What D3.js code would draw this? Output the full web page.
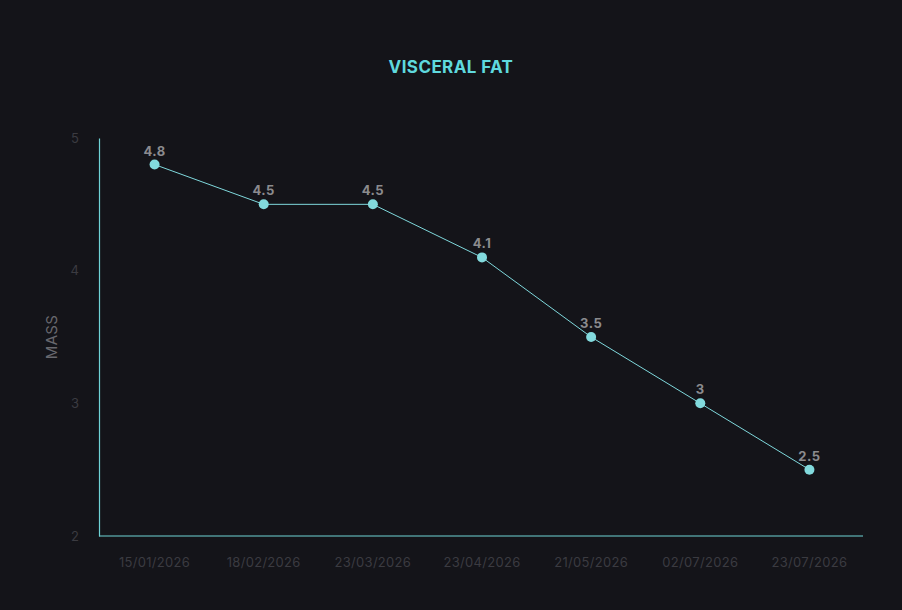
<!DOCTYPE html>
<html>
<head>
<meta charset="utf-8">
<script src="https://cdn.jsdelivr.net/npm/d3@7"></script>
<style>
  html, body { margin: 0; padding: 0; background: #141419; }
  svg { display: block; }
</style>
</head>
<body>
<div id="board"></div>
<script>
// chart data
var dates = ['15/01/2026','18/02/2026','23/03/2026','23/04/2026','21/05/2026','02/07/2026','23/07/2026'];
var values = [4.8, 4.5, 4.5, 4.1, 3.5, 3, 2.5];
var yTicks = [2, 3, 4, 5];

var W = 902, H = 610;
var margin = {left: 99, right: 39, top: 138, bottom: 74};

var svg = d3.select('#board')
    .append('svg')
    .attr('width', W)
    .attr('height', H);

svg.append('rect')
    .attr('width', W)
    .attr('height', H)
    .attr('fill', '#141419');

var x = d3.scaleBand()
    .domain(dates)
    .range([margin.left + 1, W - margin.right + 1]);

var y = d3.scaleLinear()
    .domain([2, 5])
    .range([H - margin.bottom, margin.top]);

var font = 'Inter, "Noto Sans", sans-serif';

// title
svg.append('text')
    .attr('x', W / 2)
    .attr('y', 73)
    .attr('text-anchor', 'middle')
    .style('font-family', font)
    .style('font-weight', 700)
    .style('font-size', '17px')
    .style('letter-spacing', '0.4px')
    .style('fill', '#5fd9de')
    .text('VISCERAL FAT');

// y axis
var yAxis = svg.append('g')
    .attr('transform', 'translate(' + margin.left + ',0)')
    .call(d3.axisLeft(y).tickValues(yTicks).tickSize(0).tickPadding(20).tickFormat(d3.format('d')));
yAxis.select('.domain').attr('stroke', '#6fd3d6').attr('stroke-width', 1.2);
yAxis.selectAll('text')
    .style('font-family', font)
    .style('font-size', '13px')
    .style('fill', '#3b3b41');

// x axis
var xAxis = svg.append('g')
    .attr('transform', 'translate(0,' + (H - margin.bottom) + ')')
    .call(d3.axisBottom(x).tickSize(0).tickPadding(22));
xAxis.select('.domain')
    .attr('d', 'M' + margin.left + ',0H' + (W - margin.right))
    .attr('stroke', '#6fd3d6').attr('stroke-width', 1.2);
xAxis.selectAll('text')
    .style('font-family', font)
    .style('font-size', '13px')
    .style('letter-spacing', '0.3px')
    .style('fill', '#3b3b41');

// axis label
svg.append('text')
    .attr('transform', 'translate(57,' + 337 + ') rotate(-90)')
    .attr('text-anchor', 'middle')
    .style('font-family', font)
    .style('font-size', '15px')
    .style('letter-spacing', '0.3px')
    .style('fill', '#68686e')
    .text('MASS');

var cx = function(d, i){ return x(dates[i]) + x.bandwidth() / 2; };

var line = d3.line()
    .x(function(d, i){ return cx(d, i); })
    .y(function(d){ return y(d); });

svg.append('path')
    .datum(values)
    .attr('d', line)
    .style('fill', 'none')
    .style('stroke', '#7fd8dc')
    .style('stroke-width', 1);

svg.selectAll('circle.pt')
    .data(values)
    .enter().append('circle')
    .attr('class', 'pt')
    .attr('cx', cx)
    .attr('cy', function(d){ return y(d); })
    .attr('r', 5)
    .style('fill', '#82dadd');

svg.selectAll('text.lbl')
    .data(values)
    .enter().append('text')
    .attr('class', 'lbl')
    .attr('x', cx)
    .attr('y', function(d){ return y(d) - 9; })
    .attr('text-anchor', 'middle')
    .style('font-family', font)
    .style('font-weight', 700)
    .style('font-size', '13px')
    .style('letter-spacing', '0.5px')
    .style('fill', '#8b8b8e')
    .text(function(d){ return d; });
</script>
</body>
</html>
